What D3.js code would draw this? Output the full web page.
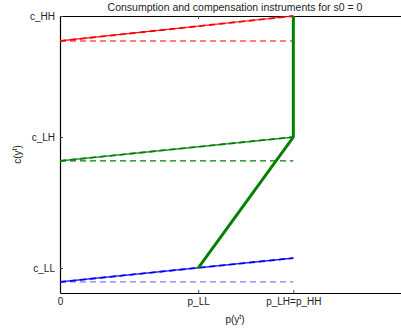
<!DOCTYPE html>
<html>
<head>
<meta charset="utf-8">
<script src="https://cdn.jsdelivr.net/npm/d3@7"></script>
<style>
  body { margin: 0; background: #fff; }
  text { font-family: "Liberation Sans", Arial, sans-serif; }
</style>
</head>
<body>
<div id="chart"></div>
<script>
// price levels (x) and consumption levels (y), normalised
const xTicks = [0, 0.592, 1];
const xTickLabels = ["0", "p_LL", "p_LH=p_HH"];
const yTicks = [0.09, 0.563, 1];
const yTickLabels = ["c_LL", "c_LH", "c_HH"];

// compensation lines per state
const lineNames = ["HH", "LH", "LL"];
const solidStart = [0.91, 0.477, 0.04];
const solidEnd = [1, 0.563, 0.126];
const dashedLevel = [0.91, 0.477, 0.04];

// thick consumption path
const pathX = [0.592, 1, 1];
const pathY = [0.09, 0.563, 1];

const colors = ["#ff0000", "#008000", "#0000ff"];
const dashColors = ["#ff0000", "#008000", "#7f7fff"];

const W = 401, H = 335;
const margin = {left: 60, top: 16, right: -9, bottom: 42};

const svg = d3.select("#chart").append("svg")
    .attr("width", W)
    .attr("height", H);

const x = d3.scaleLinear().domain([0, 1.5]).range([margin.left, W - margin.right]);
const y = d3.scaleLinear().domain([0, 1]).range([H - margin.bottom, margin.top]);

// axes
const xAxis = d3.axisBottom(x).tickValues(xTicks)
    .tickFormat((d, i) => xTickLabels[i])
    .tickSizeInner(-3).tickSizeOuter(0).tickPadding(5);
const yAxis = d3.axisLeft(y).tickValues(yTicks)
    .tickFormat((d, i) => yTickLabels[i])
    .tickSizeInner(-3).tickSizeOuter(0).tickPadding(5);
const xTop = d3.axisTop(x).tickValues(xTicks)
    .tickFormat("").tickSizeInner(-3).tickSizeOuter(0);

svg.append("g")
    .attr("transform", `translate(0,${y(0)})`)
    .call(xAxis);
svg.append("g")
    .attr("transform", `translate(0,${y(1)})`)
    .call(xTop);
svg.append("g")
    .attr("transform", `translate(${x(0)},0)`)
    .call(yAxis);

svg.selectAll(".domain").attr("stroke", "#000").attr("stroke-width", 1.2);
svg.selectAll(".tick line").attr("stroke", "#444");
svg.selectAll(".tick text").attr("font-size", 10).attr("fill", "#222")
    .style("font-family", "'Liberation Sans', Arial, sans-serif");

// dashed reference levels
svg.selectAll("line.level")
    .data(lineNames)
  .enter().append("line")
    .attr("class", "level")
    .attr("x1", x(0))
    .attr("x2", x(1))
    .attr("y1", (d, i) => y(dashedLevel[i]))
    .attr("y2", (d, i) => y(dashedLevel[i]))
    .attr("stroke", (d, i) => dashColors[i])
    .attr("stroke-width", 1.1)
    .attr("stroke-dasharray", "6,4");

// sloped compensation lines (solid with a dashed overlay, as plotted twice)
svg.selectAll("line.comp")
    .data(lineNames)
  .enter().append("line")
    .attr("class", "comp")
    .attr("x1", x(0))
    .attr("x2", x(1))
    .attr("y1", (d, i) => y(solidStart[i]))
    .attr("y2", (d, i) => y(solidEnd[i]))
    .attr("stroke", (d, i) => colors[i])
    .attr("stroke-width", 1.2);

svg.selectAll("line.compdash")
    .data(lineNames)
  .enter().append("line")
    .attr("class", "compdash")
    .attr("x1", x(0))
    .attr("x2", x(1))
    .attr("y1", (d, i) => y(solidStart[i]))
    .attr("y2", (d, i) => y(solidEnd[i]))
    .attr("stroke", (d, i) => colors[i])
    .attr("stroke-width", 1.8)
    .attr("stroke-dasharray", "6,4");

// thick green path
const line = d3.line().x(d => x(d[0])).y(d => y(d[1]));
svg.append("path")
    .datum(pathX.map((v, i) => [v, pathY[i]]))
    .attr("d", line)
    .attr("fill", "none")
    .attr("stroke", "#008000")
    .attr("stroke-width", 3);

// title and labels
const cx = (x(0) + x(1.5)) / 2;
svg.append("text")
    .attr("x", cx)
    .attr("y", 11)
    .attr("text-anchor", "middle")
    .attr("font-size", 10.5)
    .attr("fill", "#222")
    .text("Consumption and compensation instruments for s0 = 0");

const xl = svg.append("text")
    .attr("x", cx)
    .attr("y", 323)
    .attr("text-anchor", "middle")
    .attr("font-size", 10)
    .attr("fill", "#222");
xl.append("tspan").text("p(y");
xl.append("tspan").attr("dy", -4).attr("font-size", 7).text("t");
xl.append("tspan").attr("dy", 4).text(")");

const yl = svg.append("text")
    .attr("transform", `translate(21,${(y(0) + y(1)) / 2}) rotate(-90)`)
    .attr("text-anchor", "middle")
    .attr("font-size", 10)
    .attr("fill", "#222");
yl.append("tspan").text("c(y");
yl.append("tspan").attr("dy", -4).attr("font-size", 7).text("t");
yl.append("tspan").attr("dy", 4).text(")");
</script>
</body>
</html>
